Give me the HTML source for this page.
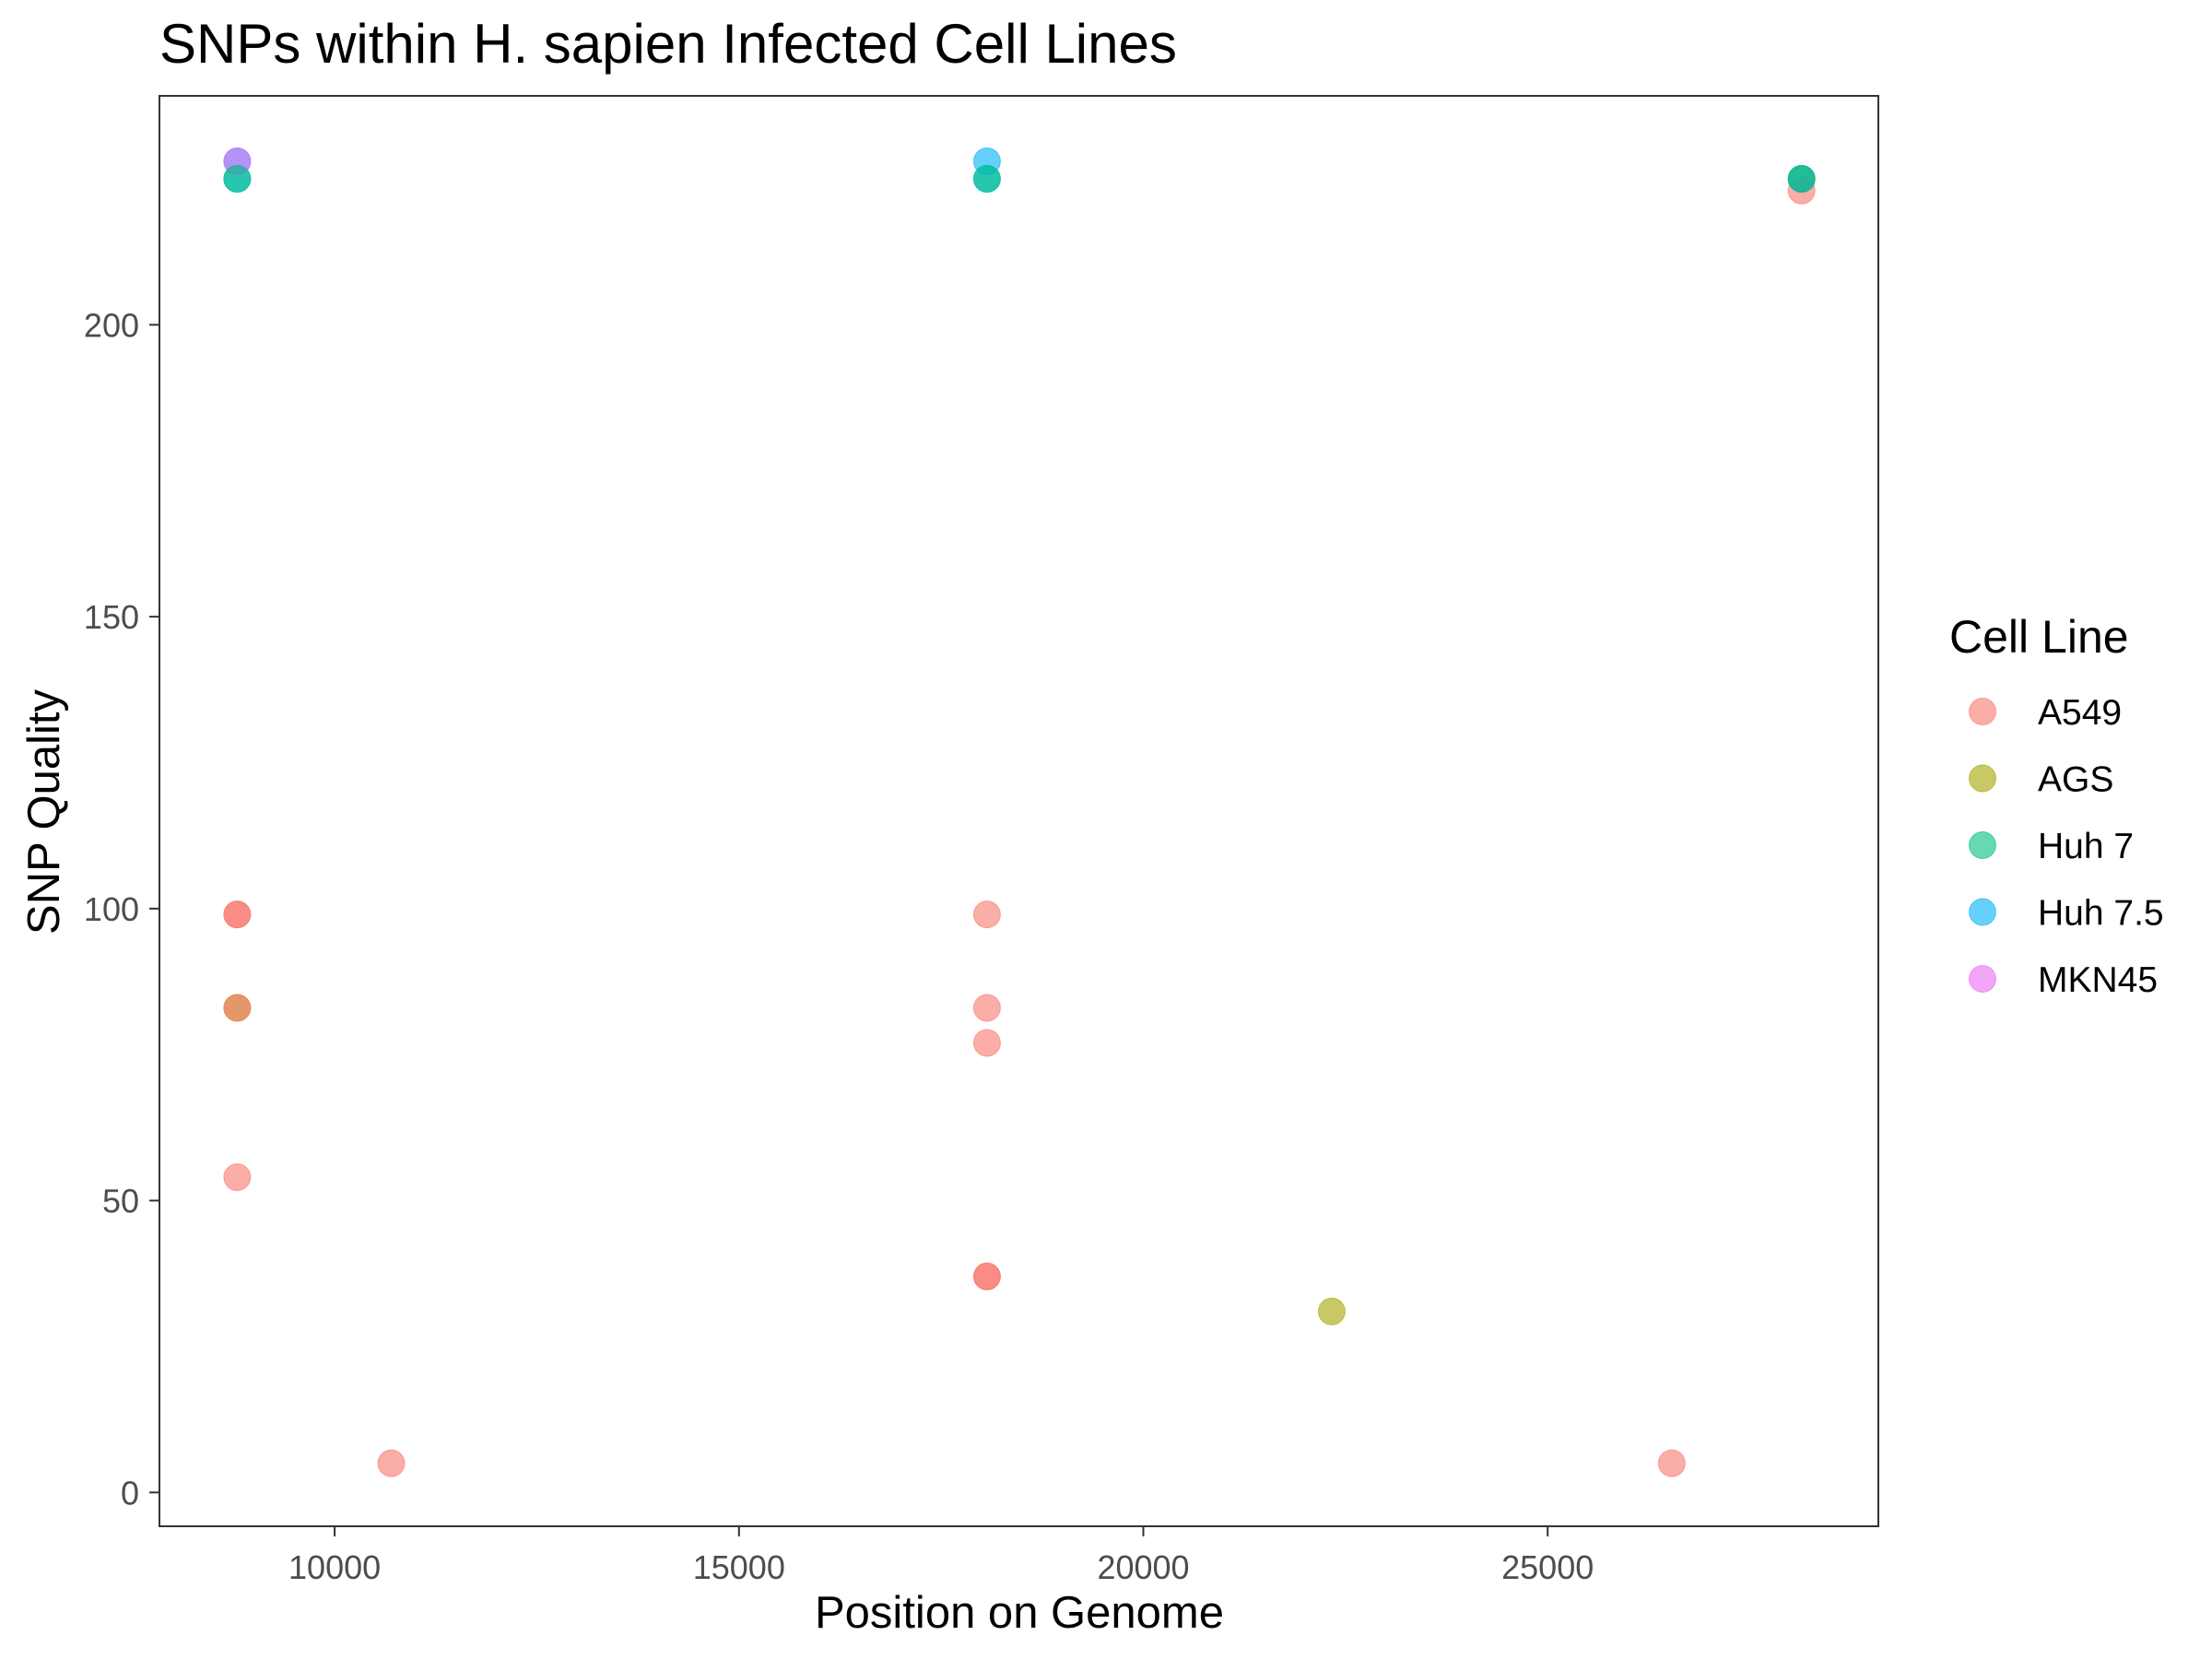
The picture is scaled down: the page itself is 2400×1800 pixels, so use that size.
<!DOCTYPE html>
<html><head><meta charset="utf-8"><style>
html,body{margin:0;padding:0;background:#fff;}
svg{display:block;font-family:"Liberation Sans",Arial,sans-serif;}
</style></head><body>
<svg id="chart" width="2400" height="1800" viewBox="0 0 2400 1800">
<text x="173" y="68" font-size="60" fill="#000">SNPs within H. sapien Infected Cell Lines</text>
<rect x="173" y="104" width="1865" height="1552" fill="#fff" stroke="#333" stroke-width="2"/>
<g id="axes"></g>
<g id="points"></g>
<text x="1106" y="1766" font-size="49" text-anchor="middle" fill="#000">Position on Genome</text>
<text transform="translate(64,881) rotate(-90)" font-size="49" text-anchor="middle" fill="#000">SNP Quality</text>
<text x="2115" y="708" font-size="50" fill="#000">Cell Line</text>
<g id="legend"></g>
</svg>
<script>
const groups = ["A549","AGS","Huh 7","Huh 7.5","MKN45"];
const colors = ["#F8766D","#A3A500","#00BF7D","#00B0F6","#E76BF3"];
const xTicks = [10000,15000,20000,25000];
const yTicks = [0,50,100,150,200];
const posX = [8795,22330,28140, 8795,8795,8795,8795,10700,18067,18067,18067,18067,18067,26535,28140, 18067,8795,28140,8795,18067, 8795, 8795,18067,28140];
const qual = [83,31,225, 54,99,99,83,5,99,83,77,37,37,5,223, 228,228,225,225,225, 228, 225,225,225];
const grp  = [1,1,1, 0,0,0,0,0,0,0,0,0,0,0,0, 3,3,3,3,3, 4, 2,2,2];

const NS="http://www.w3.org/2000/svg";
const sx = v => 363.1 + (v-10000)*(438.7/5000);
const sy = v => 1619.3 - v*6.3345;
const axes=document.getElementById('axes');
function mk(tag,attrs,parent){const e=document.createElementNS(NS,tag);for(const k in attrs)e.setAttribute(k,attrs[k]);parent.appendChild(e);return e;}
xTicks.forEach(t=>{
  const l=mk('line',{x1:sx(t),x2:sx(t),y1:1656,y2:1667,stroke:'#333','stroke-width':2},axes);
  
  
  const tx=mk('text',{x:sx(t),y:1713,'font-size':36,'text-anchor':'middle',fill:'#4d4d4d'},axes);
  tx.textContent=t;
  
  
});
yTicks.forEach(t=>{
  const l=mk('line',{x1:162,x2:173,y1:sy(t),y2:sy(t),stroke:'#333','stroke-width':2},axes);
  
  
  const tx=mk('text',{x:151,y:sy(t)+13,'font-size':36,'text-anchor':'end',fill:'#4d4d4d'},axes);
  tx.textContent=t;
  
  
});
const pts=document.getElementById('points');
for(let i=0;i<posX.length;i++){
  const c=mk('circle',{cx:sx(posX[i]),cy:sy(qual[i]),r:14.5,fill:colors[grp[i]],'fill-opacity':0.6,stroke:colors[grp[i]],'stroke-opacity':0.6,'stroke-width':1},pts);
  
  
}
const lg=document.getElementById('legend');
groups.forEach((g,i)=>{
  const y=772+i*72.5;
  const c=mk('circle',{cx:2151,cy:y,r:14.5,fill:colors[i],'fill-opacity':0.6,stroke:colors[i],'stroke-opacity':0.6},lg);
  
  
  const t=mk('text',{x:2211,y:y+14,'font-size':39,fill:'#000'},lg);
  t.textContent=g;
  
  
});
</script>
</body></html>
